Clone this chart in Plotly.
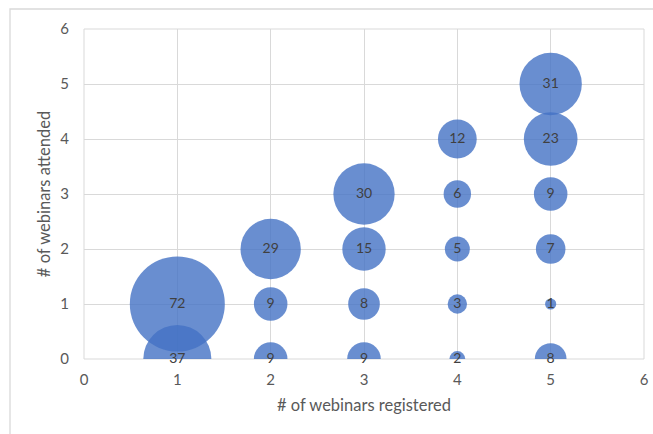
import plotly.graph_objects as go

registered = [1, 1, 2, 2, 2, 3, 3, 3, 3, 4, 4, 4, 4, 4, 5, 5, 5, 5, 5, 5]
attended   = [0, 1, 0, 1, 2, 0, 1, 2, 3, 0, 1, 2, 3, 4, 0, 1, 2, 3, 4, 5]
counts     = [37, 72, 9, 9, 29, 9, 8, 15, 30, 2, 3, 5, 6, 12, 8, 1, 7, 9, 23, 31]

W, H = 653, 434
L, T = 84, 29
R = W - 644
B = H - 359
max_diam = 95
FONT = "Lato, Calibri, sans-serif"

fig = go.Figure()
# bubbles (clipped to the plot area like the original)
fig.add_trace(go.Scatter(
    x=registered, y=attended, mode="markers",
    marker=dict(size=counts, sizemode="area",
                sizeref=2.0 * max(counts) / (max_diam ** 2),
                color="rgba(68,114,196,0.8)", opacity=1, line=dict(width=0)),
    cliponaxis=True, hoverinfo="skip", showlegend=False,
))
# data labels (not clipped)
fig.add_trace(go.Scatter(
    x=registered, y=attended, mode="text",
    text=[str(c) for c in counts], textposition="middle center",
    textfont=dict(family=FONT, size=14, color="#404040"),
    cliponaxis=False, hoverinfo="skip", showlegend=False,
))

pw, ph = W - L - R, H - T - B
# outer chart border (only top and left visible in the frame)
fig.add_shape(type="rect", xref="paper", yref="paper",
              x0=(10 - L) / pw, x1=(W + 20 - L) / pw,
              y0=(H - B - (H + 20)) / ph, y1=(H - B - 9) / ph,
              line=dict(color="#d9d9d9", width=1.3), layer="below")

axis_common = dict(range=[0, 6], dtick=1, showgrid=True, gridcolor="#d9d9d9",
                   gridwidth=1, zeroline=False, showline=False, ticks="",
                   automargin=False,
                   tickfont=dict(family=FONT, size=15, color="#595959"),
                   fixedrange=True)

fig.update_layout(
    width=W, height=H,
    margin=dict(l=L, r=R, t=T, b=B, autoexpand=False),
    paper_bgcolor="white", plot_bgcolor="white",
    xaxis=dict(axis_common, ticklabelstandoff=10,
               title=dict(text="# of webinars registered", standoff=12,
                          font=dict(family=FONT, size=16.5, color="#595959"))),
    yaxis=dict(axis_common, ticklabelstandoff=14,
               title=dict(text="# of webinars attended", standoff=5,
                          font=dict(family=FONT, size=16.5, color="#595959"))),
)
fig.add_shape(type="rect", xref="paper", yref="paper", x0=0, x1=1, y0=0, y1=1,
              line=dict(color="#d9d9d9", width=1), layer="below")

fig.write_html("out.html", config={"displayModeBar": False},
               post_script="document.body.style.margin='0';document.body.style.overflow='hidden';")
